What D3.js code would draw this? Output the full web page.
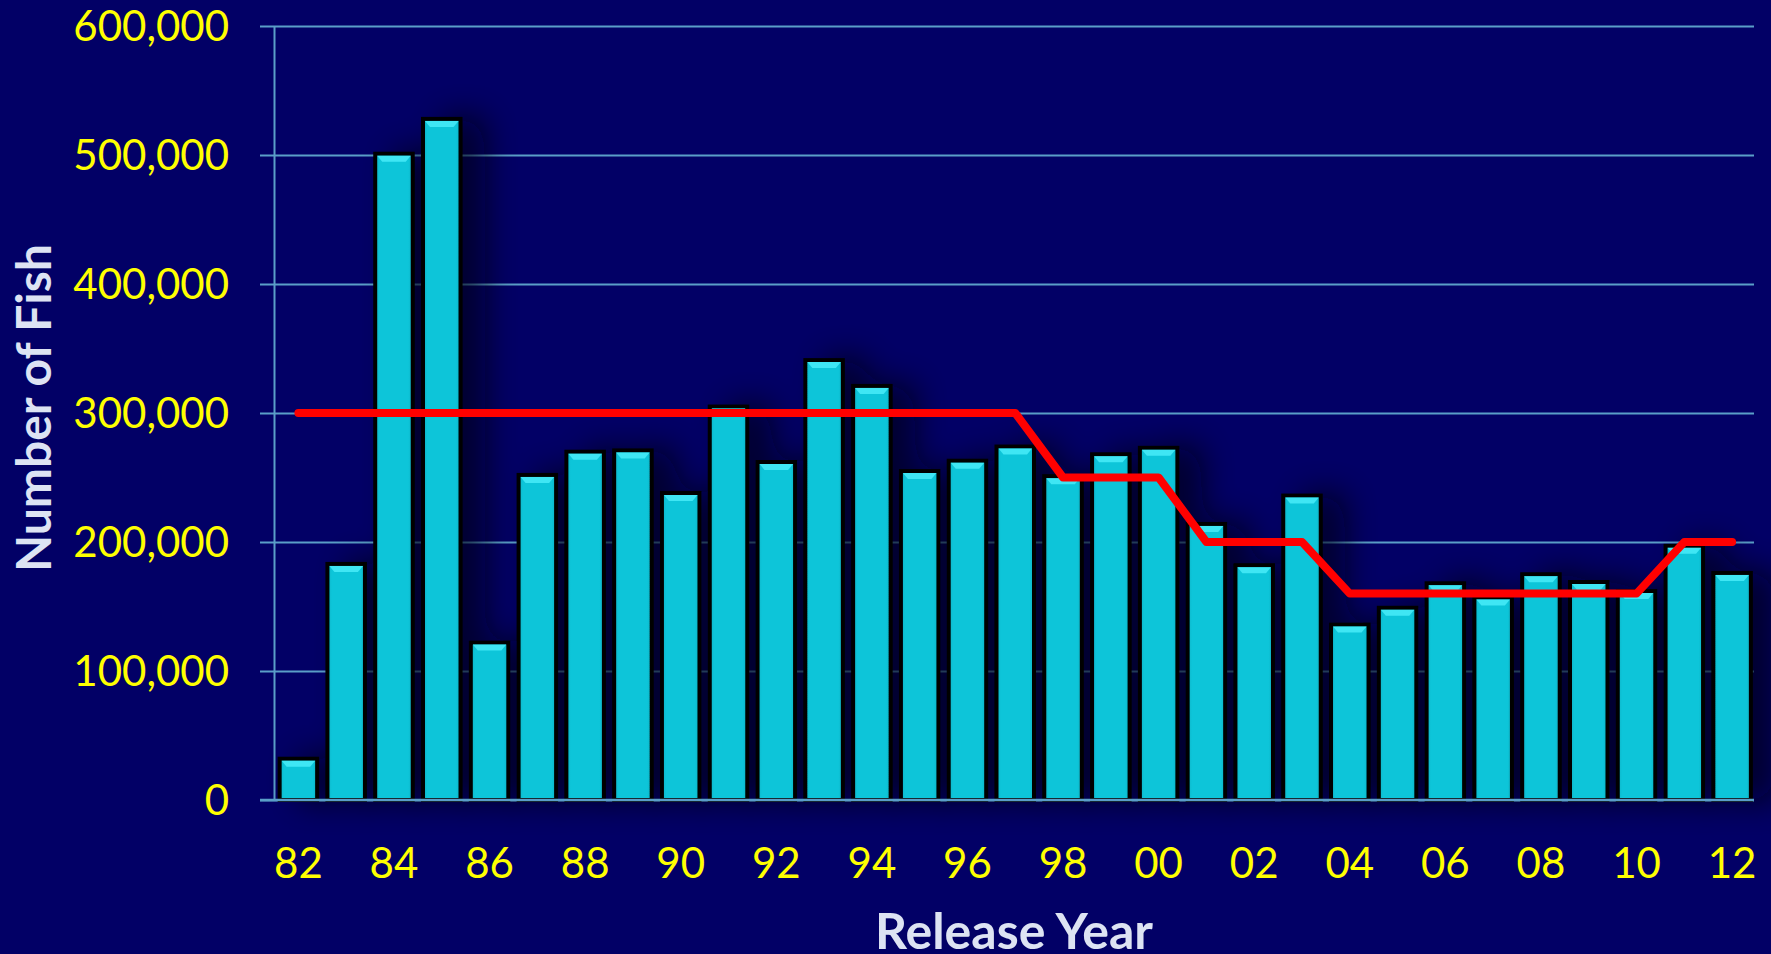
<!DOCTYPE html>
<html>
<head>
<meta charset="utf-8">
<script src="https://cdn.jsdelivr.net/npm/d3@7"></script>
<style>
  html, body { margin: 0; padding: 0; background: #020066; }
  svg { display: block; }
</style>
</head>
<body>
<div id="chart"></div>
<script>
// Release years (two-digit labels), fish released, and target level
const years = ["82","83","84","85","86","87","88","89","90","91","92","93","94","95","96",
               "97","98","99","00","01","02","03","04","05","06","07","08","09","10","11","12"];
const released = [32000, 183000, 501000, 528000, 122000, 252000, 270000, 271000, 238000, 305000,
                  262000, 341000, 321000, 255000, 263000, 274000, 251000, 268000, 273000, 214000,
                  182000, 236000, 136000, 149000, 168000, 157000, 175000, 169000, 162000, 197000, 176000];
const target = [300000, 300000, 300000, 300000, 300000, 300000, 300000, 300000, 300000, 300000,
                300000, 300000, 300000, 300000, 300000, 300000, 250000, 250000, 250000, 200000,
                200000, 200000, 160000, 160000, 160000, 160000, 160000, 160000, 160000, 200000, 200000];
const yTicks = [0, 100000, 200000, 300000, 400000, 500000, 600000];
const xTickYears = years.filter((d, i) => i % 2 === 0);

const width = 1771, height = 954;
const plot = { left: 274.5, right: 1756, top: 26, bottom: 800 };
const gridLeft = 260, gridRight = 1754;

const svg = d3.select("#chart").append("svg")
  .attr("width", width)
  .attr("height", height);

svg.append("rect").attr("width", width).attr("height", height).attr("fill", "#020066");

const defs = svg.append("defs");
const shadow = defs.append("filter").attr("id", "shadow")
  .attr("x", "-50%").attr("y", "-10%").attr("width", "250%").attr("height", "130%");
shadow.append("feDropShadow")
  .attr("dx", 22).attr("dy", 0).attr("stdDeviation", 16)
  .attr("flood-color", "#000018").attr("flood-opacity", 0.7);

const barGrad = defs.append("linearGradient").attr("id", "barGrad")
  .attr("x1", "0%").attr("x2", "100%").attr("y1", "0%").attr("y2", "0%");
barGrad.append("stop").attr("offset", "0%").attr("stop-color", "#09b3c6");
barGrad.append("stop").attr("offset", "12%").attr("stop-color", "#0cc5d9");
barGrad.append("stop").attr("offset", "88%").attr("stop-color", "#0cc5d9");
barGrad.append("stop").attr("offset", "100%").attr("stop-color", "#09b0c3");

const x = d3.scaleBand()
  .domain(years)
  .range([plot.left, plot.right])
  .paddingInner(0.215)
  .paddingOuter(0.1075);

const y = d3.scaleLinear()
  .domain([0, 600000])
  .range([plot.bottom, plot.top]);

const gridColor = "#5a9ec8";
const font = "Lato, 'Open Sans', sans-serif";

// Y axis with gridlines
const yAxis = svg.append("g")
  .attr("transform", `translate(${gridLeft},0)`)
  .call(d3.axisLeft(y)
    .tickValues(yTicks)
    .tickSize(-(gridRight - gridLeft))
    .tickPadding(31)
    .tickFormat(d3.format(",")));
yAxis.select(".domain").remove();
yAxis.selectAll(".tick line").attr("stroke", gridColor).attr("stroke-width", 2);
yAxis.selectAll(".tick text")
  .attr("fill", "#ffff00")
  .attr("font-family", font)
  .attr("font-size", 42)
  .attr("dy", "0.34em");

// vertical axis line
svg.append("line")
  .attr("x1", plot.left).attr("x2", plot.left)
  .attr("y1", y(600000)).attr("y2", y(0))
  .attr("stroke", gridColor).attr("stroke-width", 2);

// Bars
const bars = svg.append("g").attr("filter", "url(#shadow)");
bars.selectAll("rect")
  .data(years)
  .enter().append("rect")
  .attr("x", d => x(d))
  .attr("y", (d, i) => y(released[i]))
  .attr("width", x.bandwidth())
  .attr("height", (d, i) => y(0) - y(released[i]))
  .attr("fill", "url(#barGrad)")
  .attr("stroke", "#000000")
  .attr("stroke-width", 4);

// Bevel highlight on bar tops
svg.append("g").selectAll("path")
  .data(years)
  .enter().append("path")
  .attr("fill", "#3fe6f4")
  .attr("d", (d, i) => {
    const x0 = x(d) + 2, x1 = x(d) + x.bandwidth() - 2, t = y(released[i]) + 2;
    return `M${x0},${t}L${x1},${t}L${x1 - 5},${t + 6}L${x0 + 5},${t + 6}Z`;
  });

// baseline
svg.append("line")
  .attr("x1", gridLeft).attr("x2", gridRight)
  .attr("y1", y(0)).attr("y2", y(0))
  .attr("stroke", gridColor).attr("stroke-width", 2.5);

// Target line
svg.append("path")
  .datum(years)
  .attr("fill", "none")
  .attr("stroke", "#ff0000")
  .attr("stroke-width", 8)
  .attr("stroke-linecap", "round")
  .attr("stroke-linejoin", "round")
  .attr("d", d3.line()
    .x(d => x(d) + x.bandwidth() / 2)
    .y((d, i) => y(target[i])));

// X axis labels
const xAxis = svg.append("g")
  .attr("transform", `translate(0,${plot.bottom})`)
  .call(d3.axisBottom(x).tickValues(xTickYears).tickSize(0));
xAxis.select(".domain").remove();
xAxis.selectAll(".tick text")
  .attr("fill", "#ffff00")
  .attr("font-family", font)
  .attr("font-size", 42)
  .attr("y", 78)
  .attr("dy", null);

// Axis titles
svg.append("text")
  .attr("transform", `translate(51,408) rotate(-90)`)
  .attr("text-anchor", "middle")
  .attr("fill", "#dde3f3")
  .attr("font-family", font)
  .attr("font-weight", "bold")
  .attr("font-size", 48)
  .text("Number of Fish");

svg.append("text")
  .attr("x", 1014)
  .attr("y", 949)
  .attr("text-anchor", "middle")
  .attr("fill", "#dde3f3")
  .attr("font-family", font)
  .attr("font-weight", "bold")
  .attr("font-size", 50)
  .text("Release Year");
</script>
</body>
</html>
